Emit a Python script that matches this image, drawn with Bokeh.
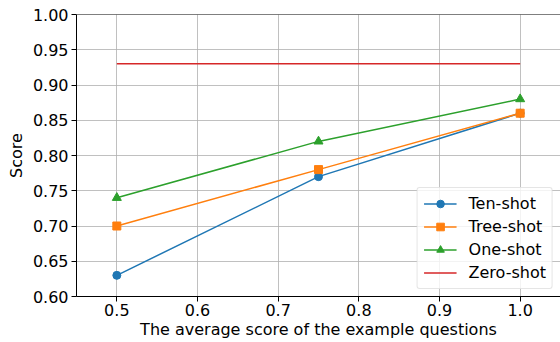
from bokeh.plotting import figure
from bokeh.models import Range1d, FixedTicker, PrintfTickFormatter, Legend, LegendItem, Span
from bokeh.embed import file_html
from bokeh.resources import INLINE

x = [0.5, 0.75, 1.0]
ten_shot = [0.63, 0.77, 0.86]
tree_shot = [0.70, 0.78, 0.86]
one_shot = [0.74, 0.82, 0.88]
zero_x = [0.5, 1.0]
zero_shot = [0.93, 0.93]
x_ticks = [0.5, 0.6, 0.7, 0.8, 0.9, 1.0]
y_ticks = [0.60, 0.65, 0.70, 0.75, 0.80, 0.85, 0.90, 0.95, 1.00]

FONT = "DejaVu Sans"
FS = "16px"
p = figure(width=560, height=342, output_backend="svg", toolbar_location=None,
           x_range=Range1d(0.45, 1.05), y_range=Range1d(0.60, 1.00),
           min_border_left=76, min_border_right=0, min_border_top=14, min_border_bottom=46)
p.outline_line_color = None
p.background_fill_color = "white"

for ax in (p.xaxis[0], p.yaxis[0]):
    ax.major_label_text_font = FONT
    ax.major_label_text_font_size = FS
    ax.major_label_text_color = "black"
    ax.axis_label_text_font = FONT
    ax.axis_label_text_font_size = FS
    ax.axis_label_text_font_style = "normal"
    ax.axis_label_text_color = "black"
    ax.axis_line_color = "black"
    ax.axis_line_width = 1
    ax.major_tick_line_color = "black"
    ax.major_tick_out = 5
    ax.major_tick_in = 0
    ax.minor_tick_line_color = None

p.xaxis.ticker = FixedTicker(ticks=x_ticks)
p.yaxis.ticker = FixedTicker(ticks=y_ticks)
p.xaxis.formatter = PrintfTickFormatter(format="%.1f")
p.yaxis.formatter = PrintfTickFormatter(format="%.2f")
p.xaxis.axis_label = "The average score of the example questions"
p.yaxis.axis_label = "Score"
p.xaxis.major_label_standoff = 2
p.yaxis.major_label_standoff = 3
p.xaxis.axis_label_standoff = 1
p.yaxis.axis_label_standoff = 4

p.xgrid.grid_line_color = "#b0b0b0"
p.ygrid.grid_line_color = "#b0b0b0"
p.xgrid.grid_line_width = 0.8
p.ygrid.grid_line_width = 0.8

p.add_layout(Span(location=1.0, dimension="width", line_color="black", line_width=1))

c1, c2, c3, c4 = "#1f77b4", "#ff7f0e", "#2ca02c", "#d62728"
l1 = p.line(x, ten_shot, line_color=c1, line_width=1.5)
m1 = p.scatter(x, ten_shot, marker="circle", size=8, fill_color=c1, line_color=c1)
l2 = p.line(x, tree_shot, line_color=c2, line_width=1.5)
m2 = p.scatter(x, tree_shot, marker="square", size=8, fill_color=c2, line_color=c2)
l3 = p.line(x, one_shot, line_color=c3, line_width=1.5)
m3 = p.scatter(x, one_shot, marker="triangle", size=9, fill_color=c3, line_color=c3)
l4 = p.line(zero_x, zero_shot, line_color=c4, line_width=1.5)

legend = Legend(items=[
    LegendItem(label="Ten-shot", renderers=[l1, m1]),
    LegendItem(label="Tree-shot", renderers=[l2, m2]),
    LegendItem(label="One-shot", renderers=[l3, m3]),
    LegendItem(label="Zero-shot", renderers=[l4]),
], location="bottom_right")
legend.label_text_font = FONT
legend.label_text_font_size = FS
legend.label_text_color = "black"
legend.glyph_width = 33
legend.glyph_height = 19
legend.label_height = 19
legend.label_standoff = 12
legend.spacing = 4
legend.padding = 6
legend.margin = 7
legend.border_line_color = "#cccccc"
legend.border_line_width = 1
legend.border_radius = 3
legend.background_fill_alpha = 0.8
p.add_layout(legend, "center")

open("out.html", "w").write(file_html(p, INLINE))
